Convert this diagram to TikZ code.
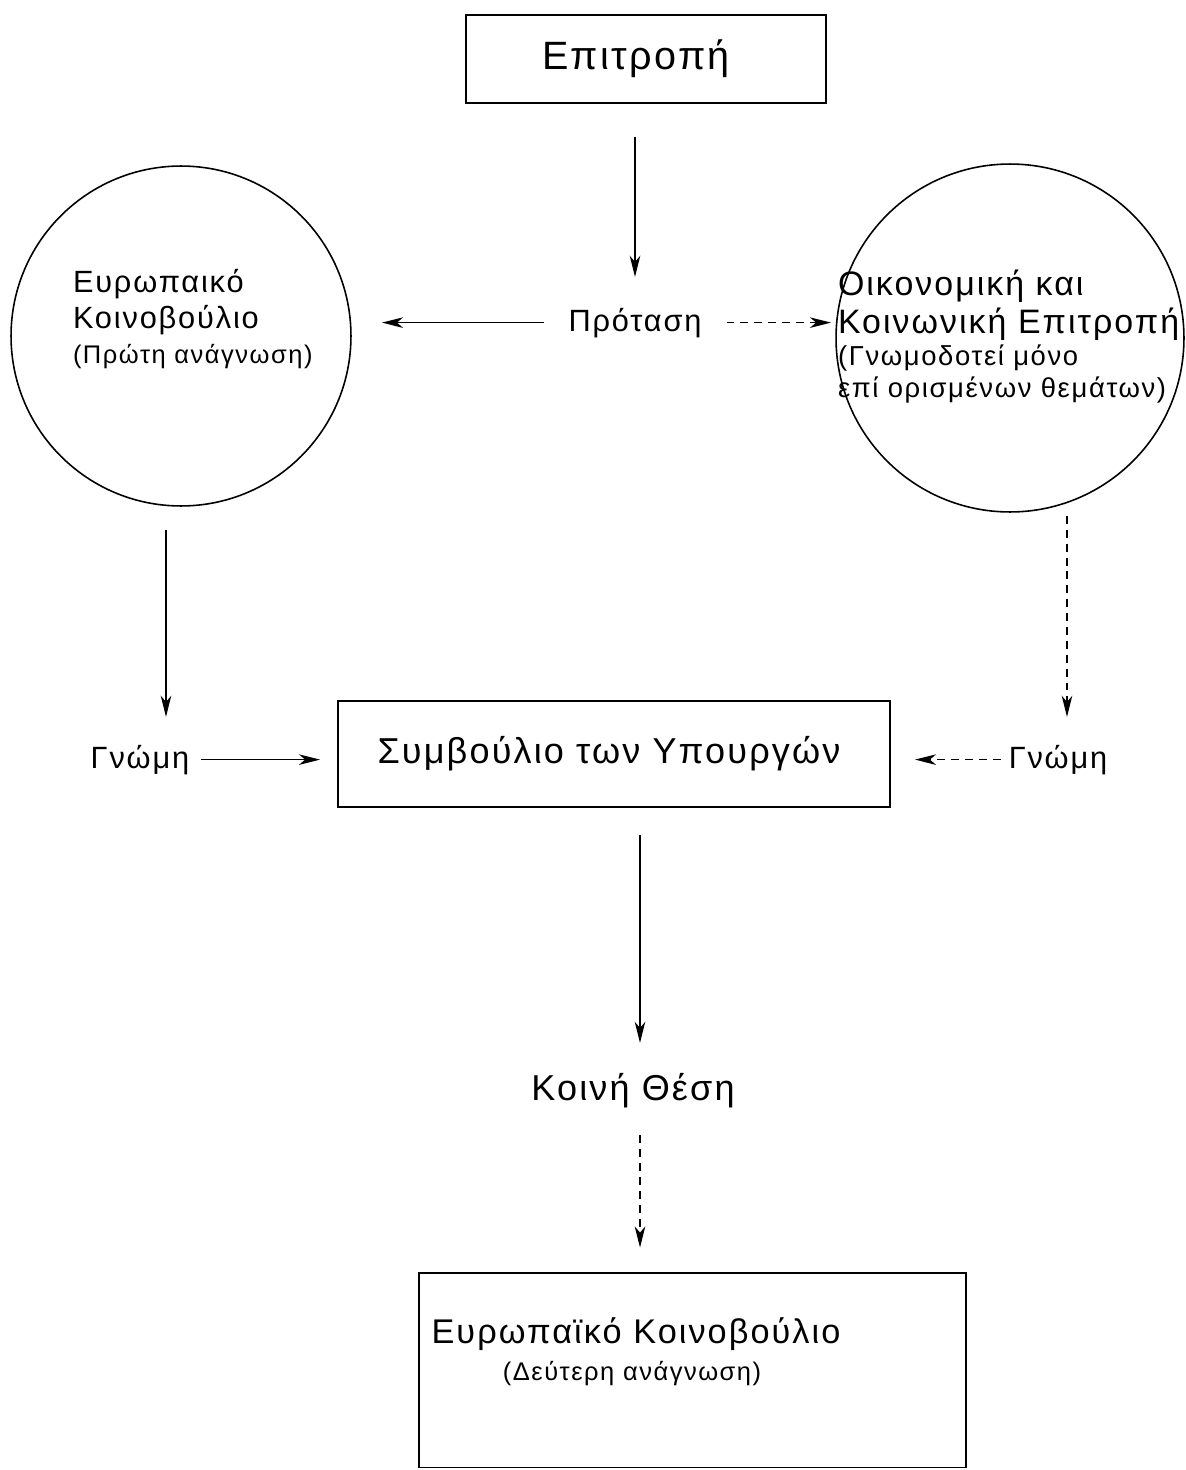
\documentclass[tikz,border=0pt]{standalone}
\usepackage{fontspec}
\setmainfont[LetterSpace=6]{Liberation Sans}
\usetikzlibrary{arrows.meta,calc}
\begin{document}
\begin{tikzpicture}[x=0.02cm,y=-0.02cm,
  every node/.style={inner sep=0pt,outer sep=0pt},
  frame/.style={draw,line width=1.1pt},
  ring/.style={draw,circle,line width=0.9pt},
  bigtxt/.style={font=\fontsize{20.5}{25}\selectfont},
  midtxt/.style={font=\fontsize{17.5}{21}\selectfont},
  smalltxt/.style={font=\fontsize{14.5}{17}\selectfont},
  rmidtxt/.style={font=\fontsize{19.3}{23}\selectfont},
  rsmalltxt/.style={font=\fontsize{15.6}{19}\selectfont},
  arr/.style={-{Stealth[length=12pt,width=6pt,inset=3.5pt]},line width=0.8pt},
  darr/.style={arr,dash pattern=on 4.5pt off 3.4pt}]
\useasboundingbox[fill=white] (0,0) rectangle (1186,1470);

% nodes
\node[frame,font=\fontsize{22.5}{26}\selectfont,minimum width=7.2cm,minimum height=1.76cm] (epit) at (646,59) {\hspace*{-0.4cm}Επιτροπή};
\node[midtxt,anchor=base] (prot) at (635,331) {Πρόταση};

\node[ring,minimum size=6.8cm] (ep1) at (181,336) {};
\node[midtxt,anchor=base west] (ep1a) at (73,292) {Ευρωπαικό};
\node[midtxt,anchor=base west] (ep1b) at (73,328) {Κοινοβούλιο};
\node[smalltxt,anchor=base west] (ep1c) at (73,363) {(Πρώτη ανάγνωση)};

\node[ring,minimum size=6.96cm] (oke) at (1010,338) {};
\node[rmidtxt,anchor=base west] (okea) at (838,295) {Οικονομική και};
\node[rmidtxt,anchor=base west] (okeb) at (838,333) {Κοινωνική Επιτροπή};
\node[rsmalltxt,anchor=base west] (okec) at (838,365) {(Γνωμοδοτεί μόνο};
\node[rsmalltxt,anchor=base west] (oked) at (838,397) {επί ορισμένων θεμάτων)};

\node[midtxt,anchor=base] (gn1) at (140,768) {Γνώμη};
\node[midtxt,anchor=base] (gn2) at (1058,768) {Γνώμη};
\node[frame,bigtxt,minimum width=11.04cm,minimum height=2.12cm] (symv) at (614,754) {\hspace*{-0.2cm}Συμβούλιο των Υπουργών};

\node[bigtxt,anchor=base] (koini) at (633,1100) {Κοινή Θέση};

\node[frame,minimum width=10.94cm,minimum height=3.9cm] (ep2) at (692.5,1370) {};
\node[font=\fontsize{19.5}{23}\selectfont,anchor=base] (ep2a) at (636,1343) {Ευρωπαϊκό Κοινοβούλιο};
\node[smalltxt,anchor=base] (ep2b) at (632,1380) {(Δεύτερη ανάγνωση)};

% connectors
\draw[arr] ($(prot.north |- epit.south)+(0,34)$) -- ($(prot.north)+(0,-31)$);
\draw[arr] ($(prot.west)+(-25,0)$) -- ($(ep1.east |- prot.west)+(31,0)$);
\draw[darr] ($(prot.east)+(25,0)$) -- ($(oke.west |- prot.east)+(-5,0)$);
\draw[arr] ($(ep1.south)+(-15,24)$) -- ($(ep1.south |- gn1.north)+(-15,-28)$);
\draw[darr] ($(oke.south)+(57,4)$) -- ($(oke.south |- gn2.north)+(57,-28)$);
\draw[arr] ($(gn1.east)+(12,0)$) -- ($(symv.west |- gn1.east)+(-18,0)$);
\draw[darr] ($(gn2.west)+(-8,0)$) -- ($(symv.east |- gn2.west)+(25,0)$);
\draw[arr] ($(symv.south)+(26,28)$) -- ($(symv.south |- koini.north)+(26,-30)$);
\draw[darr] ($(koini.south)+(7,28)$) -- ($(koini.south |- ep2.north)+(7,-25)$);
\end{tikzpicture}
\end{document}
